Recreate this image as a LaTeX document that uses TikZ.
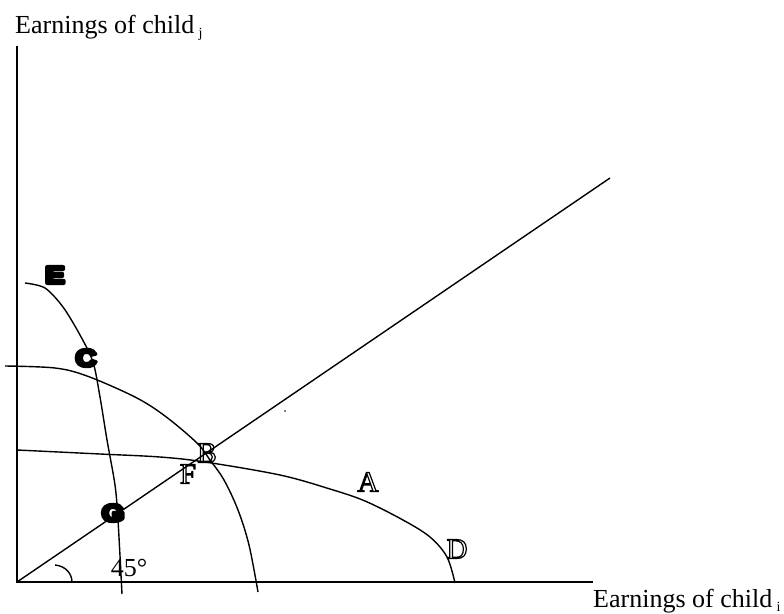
\documentclass[tikz,border=0pt]{standalone}
\usepackage{fontspec}
\setmainfont{Liberation Serif}
\newfontfamily\heavy{Liberation Sans}
\newcommand{\strokeon}[1]{\special{pdf:literal direct q #1}}
\newcommand{\strokeoff}{\special{pdf:literal direct Q}}
\tikzset{
  curve/.style={line width=1.4pt, line join=round},
  axis/.style={line width=1.5pt},
  lab/.style={font=\fontsize{26}{28}\selectfont, inner sep=0pt},
  heavylab/.style={font=\fontsize{24}{24}\heavy\bfseries, inner sep=0pt, xscale=1.2},
  outllab/.style={font=\fontsize{29}{29}\selectfont, inner sep=0pt},
}
\newcommand{\heavytext}[1]{\strokeon{2 Tr 3.5 w 1 j}#1\strokeoff}
\newcommand{\outltext}[1]{\strokeon{1 Tr 1.2 w}#1\strokeoff}
\begin{document}
\begin{tikzpicture}[x=1pt,y=-1pt]
\useasboundingbox (0,0) rectangle (784,613);
% axes
\coordinate (O) at (17,582);
\coordinate (ytop) at (17,46);
\coordinate (xend) at (593,582);
\coordinate (dend) at (610,178);
\draw[axis] (ytop) -- (O) -- (xend);
% diagonal
\draw[curve] (O) -- (dend);
% curve through C and B
\draw[curve] plot[smooth, tension=0.55] coordinates {(5,366) (55,368) (87,376) (135,397) (165,416) (197,443) (210,460) (224,480) (238,510) (249,545) (258,592)};
% curve through A to D
\draw[curve] plot[smooth, tension=0.55] coordinates {(17,450) (100,454) (160,457) (205,462) (280,475) (330,489) (365,501) (403,520) (430,537) (447,557) (455,583)};
% curve through E, C, G
\draw[curve] plot[smooth, tension=0.5] coordinates {(25,283) (45,288) (63,307) (80,335) (93,362) (100,397) (107,440) (115,485) (118,520) (122,594)};
% angle arc
\draw[curve] (55,565) .. controls (66,566) and (72,574) .. (72,582);
% labels
\node[lab, anchor=base west] (ylab) at (15,33) {Earnings of child\,\raisebox{-0.35ex}{\fontsize{14}{14}\selectfont j}};
\node[lab, anchor=base west] (xlab) at (593,607) {Earnings of child\,\raisebox{-0.35ex}{\fontsize{14}{14}\selectfont i}};
\node[lab] (ang) at (129,568) {45°};
\node[heavylab] (E) at (55,275) {\heavytext{E}};
\node[heavylab] (C) at (86,358) {\heavytext{C}};
\node[heavylab] (G) at (113,513) {\heavytext{G}};
\node[outllab] (B) at (207,453) {\outltext{B}};
\node[outllab] (F) at (188,474) {\outltext{F}};
\node[outllab] (A) at (368,482) {\outltext{A}};
\node[outllab] (D) at (457,549) {\outltext{D}};
\fill (285,411) circle (0.9);
\end{tikzpicture}
\end{document}
